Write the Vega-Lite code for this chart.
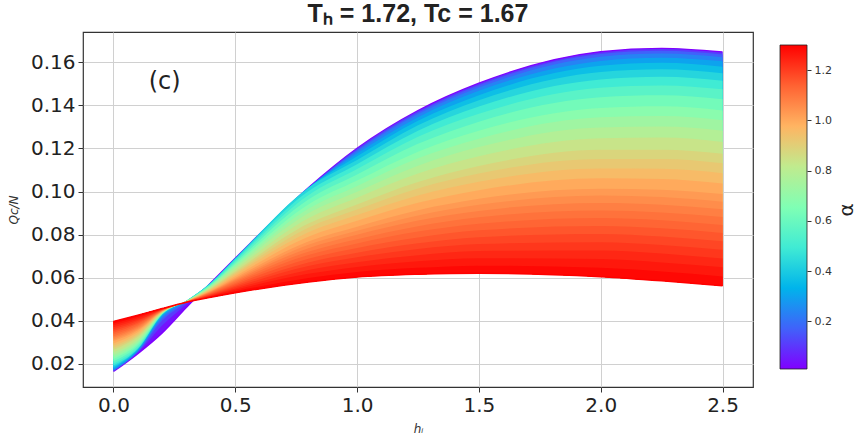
{
"$schema":"https://vega.github.io/schema/vega-lite/v6.json",
"autosize":{"type":"pad"},
"padding":{"left":6,"top":1,"right":5,"bottom":5},
"background":"white",
"spacing":25,
"config":{"view":{"stroke":"#333","strokeWidth":1.2},
"axis":{"domain":false,"gridColor":"#d0d0d0","gridWidth":1},
"axisY":{"labelFont":"DejaVu Sans","labelFontSize":20,"labelColor":"#222","tickSize":5,"tickColor":"#333","labelPadding":3,"titleFont":"DejaVu Sans","titleFontStyle":"italic","titleFontWeight":"normal","titleFontSize":12,"titleColor":"#333","titlePadding":10}},
"hconcat":[
{"width":670,"height":355,
"title":{"text":"Tₕ = 1.72, Tc = 1.67","font":"Liberation Sans","fontSize":25,"fontWeight":"bold","color":"#222","offset":5,"anchor":"middle","frame":"group"},
"data":{"values":[
{"x":0,"c0":0.0165,"c1":0.0166,"c2":0.0167,"c3":0.0170,"c4":0.0174,"c5":0.0180,"c6":0.0186,"c7":0.0193,"c8":0.0202,"c9":0.0212,"c10":0.0223,"c11":0.0233,"c12":0.0243,"c13":0.0254,"c14":0.0266,"c15":0.0275,"c16":0.0285,"c17":0.0295,"c18":0.0306,"c19":0.0313,"c20":0.0321,"c21":0.0329,"c22":0.0337,"c23":0.0345,"c24":0.0353,"c25":0.0361,"c26":0.0370,"c27":0.0379,"c28":0.0388,"c29":0.0397},
{"x":0.1,"c0":0.0248,"c1":0.0252,"c2":0.0255,"c3":0.0259,"c4":0.0262,"c5":0.0266,"c6":0.0269,"c7":0.0270,"c8":0.0276,"c9":0.0284,"c10":0.0292,"c11":0.0300,"c12":0.0308,"c13":0.0316,"c14":0.0326,"c15":0.0333,"c16":0.0340,"c17":0.0348,"c18":0.0356,"c19":0.0362,"c20":0.0368,"c21":0.0374,"c22":0.0380,"c23":0.0386,"c24":0.0392,"c25":0.0399,"c26":0.0405,"c27":0.0412,"c28":0.0419,"c29":0.0426},
{"x":0.2,"c0":0.0344,"c1":0.0378,"c2":0.0401,"c3":0.0412,"c4":0.0420,"c5":0.0425,"c6":0.0429,"c7":0.0430,"c8":0.0431,"c9":0.0432,"c10":0.0434,"c11":0.0435,"c12":0.0436,"c13":0.0438,"c14":0.0440,"c15":0.0441,"c16":0.0442,"c17":0.0443,"c18":0.0445,"c19":0.0446,"c20":0.0447,"c21":0.0448,"c22":0.0449,"c23":0.0450,"c24":0.0451,"c25":0.0452,"c26":0.0453,"c27":0.0455,"c28":0.0456,"c29":0.0457},
{"x":0.3,"c0":0.0463,"c1":0.0478,"c2":0.0486,"c3":0.0490,"c4":0.0492,"c5":0.0493,"c6":0.0494,"c7":0.0494,"c8":0.0493,"c9":0.0493,"c10":0.0493,"c11":0.0492,"c12":0.0492,"c13":0.0491,"c14":0.0491,"c15":0.0491,"c16":0.0490,"c17":0.0490,"c18":0.0489,"c19":0.0489,"c20":0.0489,"c21":0.0489,"c22":0.0488,"c23":0.0488,"c24":0.0488,"c25":0.0487,"c26":0.0487,"c27":0.0487,"c28":0.0486,"c29":0.0486},
{"x":0.4,"c0":0.0577,"c1":0.0577,"c2":0.0577,"c3":0.0577,"c4":0.0577,"c5":0.0577,"c6":0.0577,"c7":0.0575,"c8":0.0572,"c9":0.0569,"c10":0.0565,"c11":0.0562,"c12":0.0559,"c13":0.0555,"c14":0.0551,"c15":0.0548,"c16":0.0545,"c17":0.0542,"c18":0.0538,"c19":0.0536,"c20":0.0534,"c21":0.0531,"c22":0.0529,"c23":0.0526,"c24":0.0523,"c25":0.0521,"c26":0.0518,"c27":0.0515,"c28":0.0512,"c29":0.0509},
{"x":0.5,"c0":0.0690,"c1":0.0690,"c2":0.0690,"c3":0.0690,"c4":0.0690,"c5":0.0690,"c6":0.0690,"c7":0.0684,"c8":0.0678,"c9":0.0670,"c10":0.0662,"c11":0.0655,"c12":0.0647,"c13":0.0638,"c14":0.0629,"c15":0.0622,"c16":0.0615,"c17":0.0607,"c18":0.0599,"c19":0.0593,"c20":0.0588,"c21":0.0582,"c22":0.0576,"c23":0.0570,"c24":0.0563,"c25":0.0557,"c26":0.0550,"c27":0.0544,"c28":0.0537,"c29":0.0530},
{"x":0.8,"c0":0.1017,"c1":0.1017,"c2":0.1017,"c3":0.1017,"c4":0.1017,"c5":0.1017,"c6":0.1017,"c7":0.1001,"c8":0.0983,"c9":0.0963,"c10":0.0940,"c11":0.0920,"c12":0.0899,"c13":0.0876,"c14":0.0851,"c15":0.0832,"c16":0.0811,"c17":0.0790,"c18":0.0768,"c19":0.0753,"c20":0.0737,"c21":0.0721,"c22":0.0705,"c23":0.0688,"c24":0.0671,"c25":0.0654,"c26":0.0636,"c27":0.0618,"c28":0.0599,"c29":0.0580},
{"x":1.0,"c0":0.1200,"c1":0.1199,"c2":0.1194,"c3":0.1187,"c4":0.1176,"c5":0.1163,"c6":0.1146,"c7":0.1127,"c8":0.1104,"c9":0.1079,"c10":0.1051,"c11":0.1026,"c12":0.0999,"c13":0.0971,"c14":0.0940,"c15":0.0916,"c16":0.0891,"c17":0.0864,"c18":0.0837,"c19":0.0818,"c20":0.0799,"c21":0.0779,"c22":0.0759,"c23":0.0738,"c24":0.0716,"c25":0.0695,"c26":0.0672,"c27":0.0650,"c28":0.0627,"c29":0.0603},
{"x":1.25,"c0":0.1375,"c1":0.1373,"c2":0.1367,"c3":0.1358,"c4":0.1345,"c5":0.1328,"c6":0.1307,"c7":0.1282,"c8":0.1254,"c9":0.1221,"c10":0.1185,"c11":0.1154,"c12":0.1120,"c13":0.1083,"c14":0.1044,"c15":0.1014,"c16":0.0982,"c17":0.0948,"c18":0.0913,"c19":0.0889,"c20":0.0865,"c21":0.0839,"c22":0.0814,"c23":0.0787,"c24":0.0760,"c25":0.0733,"c26":0.0704,"c27":0.0676,"c28":0.0646,"c29":0.0616},
{"x":1.5,"c0":0.1502,"c1":0.1500,"c2":0.1493,"c3":0.1482,"c4":0.1467,"c5":0.1447,"c6":0.1423,"c7":0.1394,"c8":0.1361,"c9":0.1324,"c10":0.1282,"c11":0.1245,"c12":0.1206,"c13":0.1163,"c14":0.1118,"c15":0.1083,"c16":0.1045,"c17":0.1006,"c18":0.0966,"c19":0.0938,"c20":0.0910,"c21":0.0880,"c22":0.0850,"c23":0.0820,"c24":0.0788,"c25":0.0756,"c26":0.0724,"c27":0.0690,"c28":0.0656,"c29":0.0621},
{"x":2.0,"c0":0.1648,"c1":0.1645,"c2":0.1638,"c3":0.1625,"c4":0.1606,"c5":0.1583,"c6":0.1554,"c7":0.1520,"c8":0.1481,"c9":0.1437,"c10":0.1387,"c11":0.1344,"c12":0.1297,"c13":0.1247,"c14":0.1194,"c15":0.1151,"c16":0.1107,"c17":0.1061,"c18":0.1013,"c19":0.0981,"c20":0.0947,"c21":0.0912,"c22":0.0877,"c23":0.0840,"c24":0.0803,"c25":0.0765,"c26":0.0726,"c27":0.0687,"c28":0.0646,"c29":0.0605},
{"x":2.25,"c0":0.1664,"c1":0.1661,"c2":0.1653,"c3":0.1640,"c4":0.1621,"c5":0.1597,"c6":0.1567,"c7":0.1532,"c8":0.1492,"c9":0.1446,"c10":0.1395,"c11":0.1350,"c12":0.1301,"c13":0.1250,"c14":0.1194,"c15":0.1151,"c16":0.1105,"c17":0.1058,"c18":0.1008,"c19":0.0974,"c20":0.0939,"c21":0.0903,"c22":0.0867,"c23":0.0829,"c24":0.0791,"c25":0.0752,"c26":0.0712,"c27":0.0671,"c28":0.0629,"c29":0.0586},
{"x":2.5,"c0":0.1647,"c1":0.1644,"c2":0.1636,"c3":0.1623,"c4":0.1604,"c5":0.1579,"c6":0.1549,"c7":0.1514,"c8":0.1474,"c9":0.1428,"c10":0.1376,"c11":0.1331,"c12":0.1282,"c13":0.1230,"c14":0.1175,"c15":0.1131,"c16":0.1085,"c17":0.1037,"c18":0.0988,"c19":0.0953,"c20":0.0918,"c21":0.0882,"c22":0.0845,"c23":0.0808,"c24":0.0769,"c25":0.0730,"c26":0.0689,"c27":0.0648,"c28":0.0606,"c29":0.0563}
]},
"encoding":{"x":{"field":"x","type":"quantitative","scale":{"domain":[-0.125,2.625],"nice":false,"zero":false},"axis":{"values":[0,0.5,1,1.5,2,2.5],"format":".1f","title":"hᵢ","labelFont":"DejaVu Sans","labelFontSize":20,"labelColor":"#222","tickSize":5,"tickColor":"#333","labelPadding":3,"titleFont":"DejaVu Sans","titleFontStyle":"italic","titleFontWeight":"normal","titleFontSize":12,"titleColor":"#333","titlePadding":8}}},
"layer":[
{"mark":{"type":"area","interpolate":"monotone"},"encoding":{"y":{"field":"c0","type":"quantitative","title":"Qc/N","scale":{"domain":[0.0093,0.174],"nice":false,"zero":false},"axis":{"format":".2f"}},"y2":{"field":"c29"},"color":{"datum":0.042,"type":"quantitative","scale":{"type":"linear","domain":[0.01,0.17125,0.3325,0.49375,0.655,0.81625,0.9775,1.13875,1.3],"range":["#8000ff","#4062fa","#00b4eb","#40ebd4","#80ffb4","#c0eb8e","#ffb462","#ff6232","#ff0000"],"interpolate":"rgb"},"legend":null}}},
{"mark":{"type":"line","interpolate":"monotone","strokeWidth":1.5},"encoding":{"y":{"field":"c0","type":"quantitative","title":"Qc/N","axis":{"format":".2f"}},"color":{"datum":0.01,"type":"quantitative","legend":null}}},
{"mark":{"type":"area","interpolate":"monotone"},"encoding":{"y":{"field":"c1","type":"quantitative","title":"Qc/N","axis":{"format":".2f"}},"y2":{"field":"c29"},"color":{"datum":0.107,"type":"quantitative","legend":null}}},
{"mark":{"type":"area","interpolate":"monotone"},"encoding":{"y":{"field":"c2","type":"quantitative","title":"Qc/N","axis":{"format":".2f"}},"y2":{"field":"c29"},"color":{"datum":0.171,"type":"quantitative","legend":null}}},
{"mark":{"type":"area","interpolate":"monotone"},"encoding":{"y":{"field":"c3","type":"quantitative","title":"Qc/N","axis":{"format":".2f"}},"y2":{"field":"c29"},"color":{"datum":0.236,"type":"quantitative","legend":null}}},
{"mark":{"type":"area","interpolate":"monotone"},"encoding":{"y":{"field":"c4","type":"quantitative","title":"Qc/N","axis":{"format":".2f"}},"y2":{"field":"c29"},"color":{"datum":0.300,"type":"quantitative","legend":null}}},
{"mark":{"type":"area","interpolate":"monotone"},"encoding":{"y":{"field":"c5","type":"quantitative","title":"Qc/N","axis":{"format":".2f"}},"y2":{"field":"c29"},"color":{"datum":0.365,"type":"quantitative","legend":null}}},
{"mark":{"type":"area","interpolate":"monotone"},"encoding":{"y":{"field":"c6","type":"quantitative","title":"Qc/N","axis":{"format":".2f"}},"y2":{"field":"c29"},"color":{"datum":0.429,"type":"quantitative","legend":null}}},
{"mark":{"type":"area","interpolate":"monotone"},"encoding":{"y":{"field":"c7","type":"quantitative","title":"Qc/N","axis":{"format":".2f"}},"y2":{"field":"c29"},"color":{"datum":0.494,"type":"quantitative","legend":null}}},
{"mark":{"type":"area","interpolate":"monotone"},"encoding":{"y":{"field":"c8","type":"quantitative","title":"Qc/N","axis":{"format":".2f"}},"y2":{"field":"c29"},"color":{"datum":0.558,"type":"quantitative","legend":null}}},
{"mark":{"type":"area","interpolate":"monotone"},"encoding":{"y":{"field":"c9","type":"quantitative","title":"Qc/N","axis":{"format":".2f"}},"y2":{"field":"c29"},"color":{"datum":0.623,"type":"quantitative","legend":null}}},
{"mark":{"type":"area","interpolate":"monotone"},"encoding":{"y":{"field":"c10","type":"quantitative","title":"Qc/N","axis":{"format":".2f"}},"y2":{"field":"c29"},"color":{"datum":0.681,"type":"quantitative","legend":null}}},
{"mark":{"type":"area","interpolate":"monotone"},"encoding":{"y":{"field":"c11","type":"quantitative","title":"Qc/N","axis":{"format":".2f"}},"y2":{"field":"c29"},"color":{"datum":0.732,"type":"quantitative","legend":null}}},
{"mark":{"type":"area","interpolate":"monotone"},"encoding":{"y":{"field":"c12","type":"quantitative","title":"Qc/N","axis":{"format":".2f"}},"y2":{"field":"c29"},"color":{"datum":0.784,"type":"quantitative","legend":null}}},
{"mark":{"type":"area","interpolate":"monotone"},"encoding":{"y":{"field":"c13","type":"quantitative","title":"Qc/N","axis":{"format":".2f"}},"y2":{"field":"c29"},"color":{"datum":0.836,"type":"quantitative","legend":null}}},
{"mark":{"type":"area","interpolate":"monotone"},"encoding":{"y":{"field":"c14","type":"quantitative","title":"Qc/N","axis":{"format":".2f"}},"y2":{"field":"c29"},"color":{"datum":0.881,"type":"quantitative","legend":null}}},
{"mark":{"type":"area","interpolate":"monotone"},"encoding":{"y":{"field":"c15","type":"quantitative","title":"Qc/N","axis":{"format":".2f"}},"y2":{"field":"c29"},"color":{"datum":0.919,"type":"quantitative","legend":null}}},
{"mark":{"type":"area","interpolate":"monotone"},"encoding":{"y":{"field":"c16","type":"quantitative","title":"Qc/N","axis":{"format":".2f"}},"y2":{"field":"c29"},"color":{"datum":0.958,"type":"quantitative","legend":null}}},
{"mark":{"type":"area","interpolate":"monotone"},"encoding":{"y":{"field":"c17","type":"quantitative","title":"Qc/N","axis":{"format":".2f"}},"y2":{"field":"c29"},"color":{"datum":0.997,"type":"quantitative","legend":null}}},
{"mark":{"type":"area","interpolate":"monotone"},"encoding":{"y":{"field":"c18","type":"quantitative","title":"Qc/N","axis":{"format":".2f"}},"y2":{"field":"c29"},"color":{"datum":1.029,"type":"quantitative","legend":null}}},
{"mark":{"type":"area","interpolate":"monotone"},"encoding":{"y":{"field":"c19","type":"quantitative","title":"Qc/N","axis":{"format":".2f"}},"y2":{"field":"c29"},"color":{"datum":1.055,"type":"quantitative","legend":null}}},
{"mark":{"type":"area","interpolate":"monotone"},"encoding":{"y":{"field":"c20","type":"quantitative","title":"Qc/N","axis":{"format":".2f"}},"y2":{"field":"c29"},"color":{"datum":1.081,"type":"quantitative","legend":null}}},
{"mark":{"type":"area","interpolate":"monotone"},"encoding":{"y":{"field":"c21","type":"quantitative","title":"Qc/N","axis":{"format":".2f"}},"y2":{"field":"c29"},"color":{"datum":1.107,"type":"quantitative","legend":null}}},
{"mark":{"type":"area","interpolate":"monotone"},"encoding":{"y":{"field":"c22","type":"quantitative","title":"Qc/N","axis":{"format":".2f"}},"y2":{"field":"c29"},"color":{"datum":1.132,"type":"quantitative","legend":null}}},
{"mark":{"type":"area","interpolate":"monotone"},"encoding":{"y":{"field":"c23","type":"quantitative","title":"Qc/N","axis":{"format":".2f"}},"y2":{"field":"c29"},"color":{"datum":1.158,"type":"quantitative","legend":null}}},
{"mark":{"type":"area","interpolate":"monotone"},"encoding":{"y":{"field":"c24","type":"quantitative","title":"Qc/N","axis":{"format":".2f"}},"y2":{"field":"c29"},"color":{"datum":1.184,"type":"quantitative","legend":null}}},
{"mark":{"type":"area","interpolate":"monotone"},"encoding":{"y":{"field":"c25","type":"quantitative","title":"Qc/N","axis":{"format":".2f"}},"y2":{"field":"c29"},"color":{"datum":1.210,"type":"quantitative","legend":null}}},
{"mark":{"type":"area","interpolate":"monotone"},"encoding":{"y":{"field":"c26","type":"quantitative","title":"Qc/N","axis":{"format":".2f"}},"y2":{"field":"c29"},"color":{"datum":1.236,"type":"quantitative","legend":null}}},
{"mark":{"type":"area","interpolate":"monotone"},"encoding":{"y":{"field":"c27","type":"quantitative","title":"Qc/N","axis":{"format":".2f"}},"y2":{"field":"c29"},"color":{"datum":1.261,"type":"quantitative","legend":null}}},
{"mark":{"type":"area","interpolate":"monotone"},"encoding":{"y":{"field":"c28","type":"quantitative","title":"Qc/N","axis":{"format":".2f"}},"y2":{"field":"c29"},"color":{"datum":1.287,"type":"quantitative","legend":null}}},
{"mark":{"type":"line","interpolate":"monotone","strokeWidth":1.5},"encoding":{"y":{"field":"c29","type":"quantitative","title":"Qc/N","axis":{"format":".2f"}},"color":{"datum":1.3,"type":"quantitative","legend":null}}},
{"data":{"values":[{"x":0.21,"y":0.1507,"label":"(c)"}]},"mark":{"type":"text","font":"DejaVu Sans","fontSize":24,"color":"#222"},"encoding":{"y":{"field":"y","type":"quantitative","title":"Qc/N","axis":{"format":".2f"}},"text":{"field":"label"}}}
]},
{"width":27,"height":355,"view":{"stroke":null},
"data":{"values":[{"x0":0,"x1":1,"lo":0.01,"hi":1.3}]},
"mark":{"type":"rect","stroke":"#222","strokeWidth":0.8,"color":{"gradient":"linear","x1":0,"y1":1,"x2":0,"y2":0,"stops":[{"offset":0,"color":"#8000ff"},{"offset":0.125,"color":"#4062fa"},{"offset":0.25,"color":"#00b4eb"},{"offset":0.375,"color":"#40ebd4"},{"offset":0.5,"color":"#80ffb4"},{"offset":0.625,"color":"#c0eb8e"},{"offset":0.75,"color":"#ffb462"},{"offset":0.875,"color":"#ff6232"},{"offset":1,"color":"#ff0000"}]}},
"encoding":{
"x":{"field":"x0","type":"quantitative","scale":{"domain":[0,1],"nice":false,"zero":false},"axis":null},
"x2":{"field":"x1"},
"y":{"field":"lo","type":"quantitative","scale":{"domain":[-0.0617,1.3518],"nice":false,"zero":false},"axis":{"orient":"right","values":[0.2,0.4,0.6,0.8,1.0,1.2],"format":".1f","title":"α","grid":false,"domain":false,"labelFont":"DejaVu Sans","labelFontSize":11,"labelColor":"#333","tickSize":4,"tickColor":"#333","labelPadding":3,"titleFont":"DejaVu Sans","titleFontSize":20,"titleFontStyle":"normal","titleColor":"#222","titleAngle":-90,"titleBaseline":"top","titlePadding":5}},
"y2":{"field":"hi"}}}
]
}
